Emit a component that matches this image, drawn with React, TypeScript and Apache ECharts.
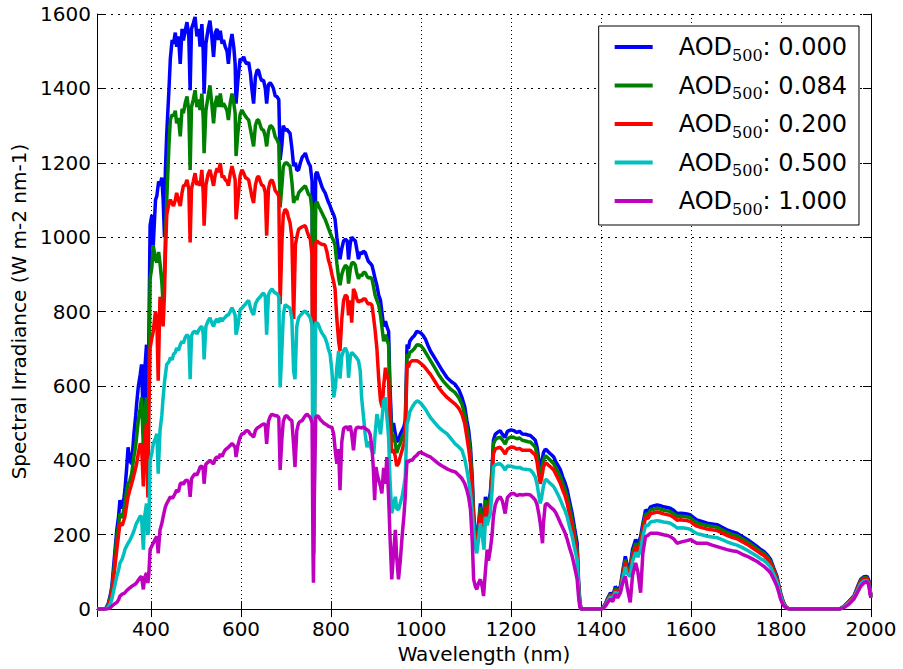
import React, { useEffect, useRef } from "react";
import * as echarts from "echarts";

const aodLabels = ["0.000", "0.084", "0.200", "0.500", "1.000"];
const seriesColors = ["#0000ff", "#008000", "#ff0000", "#00bfbf", "#bf00bf"];
const xTickStart = 280;
const xTickEnd = 2000;
const yTickEnd = 1600;

const aod000: number[][] = [[280,0],[295,0],[300,3],[305,15],[310,40],[313,61],[318,130],[324,213],[328,250],[331,293],[336,270],[340,300],[342,320],[346,380],[349,435],[353,400],[357,390],[362,470],[366,520],[368,551],[372,600],[376,630],[379,658],[383,497],[386,640],[390,711],[393,430],[395,700],[398,1031],[402,1060],[405,978],[410,1100],[413,1111],[417,1150],[420,1138],[424,1160],[427,1101],[430,1000],[432,1180],[435,1279],[440,1400],[443,1480],[447,1530],[450,1520],[454,1550],[457,1512],[461,1540],[465,1466],[469,1560],[472,1529],[476,1555],[480,1578],[484,1540],[487,1395],[490,1560],[494,1575],[498,1592],[502,1540],[506,1560],[509,1512],[513,1573],[516,1500],[518,1386],[522,1520],[527,1560],[531,1582],[535,1540],[539,1485],[543,1550],[547,1560],[550,1530],[554,1555],[558,1520],[561,1530],[565,1512],[569,1500],[572,1466],[576,1520],[580,1546],[584,1510],[587,1466],[589,1359],[593,1420],[598,1480],[602,1475],[606,1485],[610,1470],[613,1466],[617,1470],[621,1440],[624,1400],[628,1359],[632,1430],[636,1450],[639,1448],[643,1430],[646,1420],[650,1422],[654,1400],[657,1359],[661,1410],[665,1415],[669,1408],[672,1400],[676,1380],[680,1378],[684,1370],[687,1208],[691,1250],[694,1300],[698,1288],[702,1290],[705,1285],[709,1279],[713,1240],[717,1191],[721,1200],[724,1180],[728,1181],[732,1200],[736,1215],[740,1220],[743,1226],[747,1210],[750,1200],[754,1191],[758,1150],[760,500],[762,250],[764,900],[766,1170],[769,1175],[772,1164],[776,1150],[780,1135],[784,1125],[787,1119],[791,1105],[794,1095],[798,1084],[802,1070],[806,1060],[809,1048],[813,1000],[817,960],[820,941],[824,970],[828,990],[832,994],[836,990],[839,940],[843,985],[846,1000],[850,994],[854,990],[857,970],[861,941],[865,960],[868,955],[872,962],[876,959],[880,945],[883,935],[887,930],[891,924],[894,910],[898,888],[902,870],[906,844],[910,830],[914,790],[917,760],[921,774],[924,760],[928,747],[931,600],[935,480],[939,500],[943,471],[946,450],[950,454],[954,470],[958,480],[962,490],[965,507],[967,600],[969,711],[972,700],[975,720],[980,729],[985,735],[991,747],[995,745],[1000,742],[1005,735],[1010,725],[1015,710],[1021,694],[1030,676],[1039,658],[1048,640],[1058,622],[1067,612],[1076,604],[1084,590],[1091,569],[1097,545],[1102,507],[1106,480],[1110,435],[1114,350],[1117,257],[1121,200],[1124,177],[1128,230],[1132,284],[1136,250],[1140,200],[1143,302],[1147,270],[1150,290],[1154,311],[1158,380],[1161,454],[1165,470],[1170,475],[1176,480],[1181,470],[1187,462],[1192,478],[1200,482],[1206,480],[1213,475],[1219,478],[1225,471],[1232,470],[1238,468],[1243,467],[1249,460],[1254,454],[1258,435],[1262,400],[1265,374],[1268,390],[1272,420],[1276,430],[1280,427],[1285,420],[1290,415],[1295,409],[1300,395],[1305,385],[1310,374],[1315,355],[1320,340],[1325,320],[1330,290],[1336,257],[1341,220],[1347,177],[1350,80],[1353,20],[1356,0],[1400,0],[1405,5],[1410,15],[1415,30],[1421,44],[1426,35],[1432,61],[1437,50],[1443,61],[1448,100],[1454,142],[1458,120],[1465,115],[1470,160],[1477,187],[1482,175],[1488,195],[1493,230],[1499,267],[1504,262],[1510,275],[1518,278],[1525,280],[1532,278],[1539,275],[1547,273],[1554,271],[1562,265],[1569,257],[1577,258],[1584,257],[1591,256],[1599,253],[1606,246],[1613,240],[1624,236],[1636,231],[1647,229],[1658,227],[1669,220],[1680,213],[1691,208],[1702,204],[1713,196],[1725,187],[1736,178],[1747,168],[1755,160],[1762,155],[1770,145],[1777,133],[1784,110],[1791,88],[1795,65],[1799,44],[1805,20],[1810,8],[1815,2],[1821,0],[1930,0],[1940,8],[1950,20],[1962,35],[1970,60],[1977,80],[1984,87],[1991,88],[1995,78],[1998,53],[2000,35]];

const aod084: number[][] = [[280,0],[295,0],[300,2],[305,12],[310,35],[313,53],[318,110],[324,195],[328,225],[331,257],[336,245],[340,270],[342,284],[346,320],[349,337],[353,345],[357,364],[362,410],[366,440],[368,462],[372,510],[376,540],[379,569],[383,435],[386,520],[390,569],[393,330],[395,560],[398,888],[402,920],[405,978],[410,940],[413,932],[417,960],[420,930],[424,880],[427,820],[430,900],[432,1000],[435,1101],[440,1250],[443,1315],[447,1330],[450,1325],[454,1340],[457,1306],[461,1320],[465,1271],[469,1345],[472,1333],[476,1360],[480,1378],[484,1340],[487,1181],[490,1350],[494,1370],[498,1395],[502,1350],[506,1370],[509,1342],[513,1386],[516,1320],[518,1226],[522,1340],[527,1380],[531,1408],[535,1360],[539,1306],[543,1360],[547,1380],[550,1350],[554,1386],[558,1350],[561,1360],[565,1351],[569,1340],[572,1315],[576,1360],[580,1386],[584,1360],[587,1333],[589,1218],[593,1280],[598,1330],[602,1342],[606,1333],[610,1325],[613,1320],[617,1315],[621,1290],[624,1270],[628,1244],[632,1300],[636,1315],[639,1315],[643,1300],[646,1290],[650,1288],[654,1270],[657,1244],[661,1285],[665,1300],[669,1297],[672,1290],[676,1270],[680,1262],[684,1250],[687,1080],[691,1140],[694,1190],[698,1199],[702,1200],[705,1195],[709,1191],[713,1150],[717,1092],[721,1110],[724,1100],[728,1119],[732,1125],[736,1130],[740,1135],[743,1138],[747,1125],[750,1115],[754,1111],[758,1070],[760,450],[762,220],[764,850],[766,1090],[769,1095],[772,1084],[776,1075],[780,1065],[784,1055],[787,1048],[791,1035],[794,1025],[798,1012],[802,1000],[806,990],[809,978],[813,930],[817,890],[820,871],[824,900],[828,915],[832,924],[836,920],[839,875],[843,915],[846,930],[850,932],[854,925],[857,905],[861,888],[865,900],[868,895],[872,905],[876,905],[880,895],[883,890],[887,892],[891,888],[894,870],[898,844],[902,830],[906,817],[910,790],[914,750],[917,720],[921,738],[924,725],[928,711],[931,570],[935,450],[939,470],[943,444],[946,420],[950,435],[954,445],[958,462],[962,470],[965,480],[967,580],[969,685],[972,675],[975,690],[980,694],[985,700],[991,711],[995,710],[1000,708],[1005,700],[1010,690],[1015,680],[1021,668],[1030,650],[1039,631],[1048,615],[1058,601],[1067,590],[1076,582],[1084,568],[1091,551],[1097,525],[1102,489],[1106,460],[1110,417],[1114,330],[1117,248],[1121,190],[1124,170],[1128,220],[1132,275],[1136,240],[1140,190],[1143,293],[1147,260],[1150,280],[1154,302],[1158,370],[1161,444],[1165,455],[1170,460],[1176,462],[1181,455],[1187,444],[1192,458],[1200,463],[1206,462],[1213,458],[1219,460],[1225,454],[1232,452],[1238,450],[1243,449],[1249,442],[1254,435],[1258,415],[1262,380],[1265,355],[1268,372],[1272,400],[1276,412],[1280,409],[1285,403],[1290,397],[1295,391],[1300,378],[1305,367],[1310,355],[1315,338],[1320,322],[1325,302],[1330,275],[1336,240],[1341,205],[1347,160],[1350,70],[1353,15],[1356,0],[1400,0],[1405,4],[1410,13],[1415,27],[1421,40],[1426,32],[1432,56],[1437,46],[1443,56],[1448,92],[1454,133],[1458,112],[1465,105],[1470,150],[1477,177],[1482,165],[1488,185],[1493,220],[1499,257],[1504,252],[1510,266],[1518,269],[1525,271],[1532,269],[1539,266],[1547,264],[1554,262],[1562,256],[1569,249],[1577,250],[1584,249],[1591,248],[1599,245],[1606,238],[1613,232],[1624,228],[1636,224],[1647,222],[1658,220],[1669,213],[1680,206],[1691,201],[1702,197],[1713,190],[1725,181],[1736,172],[1747,162],[1755,155],[1762,150],[1770,140],[1777,128],[1784,106],[1791,84],[1795,62],[1799,42],[1805,18],[1810,7],[1815,2],[1821,0],[1930,0],[1940,7],[1950,19],[1962,33],[1970,57],[1977,77],[1984,84],[1991,85],[1995,75],[1998,51],[2000,34]];

const aod200: number[][] = [[280,0],[295,0],[300,2],[305,9],[310,28],[313,45],[318,95],[324,160],[328,200],[331,231],[336,225],[340,240],[342,248],[346,280],[349,302],[353,320],[357,337],[362,360],[366,380],[368,391],[372,420],[376,445],[379,440],[383,330],[386,440],[390,498],[393,300],[395,520],[398,702],[402,730],[405,747],[410,801],[413,780],[416,614],[420,840],[424,807],[427,760],[430,850],[432,950],[435,1060],[440,1092],[443,1101],[447,1090],[450,1084],[454,1100],[457,1119],[461,1100],[465,1084],[469,1120],[472,1138],[476,1140],[480,1154],[484,1130],[487,986],[490,1130],[494,1150],[498,1172],[502,1140],[506,1150],[509,1138],[513,1181],[516,1120],[518,1031],[522,1140],[527,1170],[531,1181],[535,1160],[539,1138],[543,1170],[547,1185],[550,1175],[554,1199],[558,1160],[561,1165],[565,1154],[569,1150],[572,1138],[576,1170],[580,1191],[584,1170],[587,1154],[589,1048],[593,1100],[598,1165],[602,1181],[606,1172],[610,1160],[613,1158],[617,1154],[621,1130],[624,1110],[628,1092],[632,1140],[636,1160],[639,1164],[643,1150],[646,1140],[650,1138],[654,1120],[657,1004],[661,1130],[665,1150],[669,1154],[672,1145],[676,1125],[680,1119],[684,1110],[687,820],[691,990],[694,1060],[698,1075],[702,1070],[705,1055],[709,1039],[713,1000],[717,780],[721,980],[724,1000],[728,1021],[732,1025],[736,1028],[740,1030],[743,1031],[747,1015],[750,1005],[754,994],[758,950],[760,400],[762,200],[764,750],[766,985],[769,990],[772,986],[776,983],[780,980],[784,980],[787,978],[791,960],[794,940],[798,924],[802,900],[806,880],[809,861],[813,780],[817,720],[820,694],[824,780],[828,830],[832,844],[836,840],[839,790],[843,830],[846,770],[850,861],[854,850],[857,835],[861,825],[865,830],[868,828],[872,834],[876,834],[880,825],[883,820],[887,822],[891,817],[894,790],[898,750],[902,700],[906,620],[910,560],[914,542],[917,600],[921,649],[924,630],[928,614],[931,500],[935,420],[939,430],[943,409],[946,385],[950,391],[954,410],[958,427],[962,445],[965,462],[967,560],[969,658],[972,650],[975,662],[980,668],[985,668],[991,668],[995,665],[1000,660],[1005,655],[1010,648],[1015,640],[1021,631],[1030,614],[1039,596],[1048,582],[1058,569],[1067,560],[1076,551],[1084,540],[1091,524],[1097,500],[1102,462],[1106,430],[1110,391],[1114,310],[1117,231],[1121,180],[1124,160],[1128,210],[1132,257],[1136,225],[1140,180],[1143,275],[1147,245],[1150,265],[1154,284],[1158,350],[1161,417],[1165,430],[1170,433],[1176,435],[1181,428],[1187,417],[1192,430],[1200,436],[1206,435],[1213,430],[1219,432],[1225,427],[1232,427],[1238,427],[1243,427],[1249,420],[1254,414],[1258,395],[1262,360],[1265,337],[1268,352],[1272,380],[1276,393],[1280,391],[1285,385],[1290,380],[1295,374],[1300,362],[1305,350],[1310,337],[1315,320],[1320,305],[1325,284],[1330,255],[1336,222],[1341,190],[1347,150],[1350,60],[1353,12],[1356,0],[1400,0],[1405,4],[1410,12],[1415,25],[1421,37],[1426,30],[1432,52],[1437,43],[1443,52],[1448,86],[1454,125],[1458,105],[1465,98],[1470,140],[1477,167],[1482,155],[1488,175],[1493,210],[1499,247],[1504,243],[1510,256],[1518,259],[1525,261],[1532,259],[1539,256],[1547,254],[1554,252],[1562,246],[1569,239],[1577,240],[1584,239],[1591,238],[1599,235],[1606,228],[1613,223],[1624,219],[1636,215],[1647,213],[1658,211],[1669,205],[1680,198],[1691,193],[1702,189],[1713,182],[1725,174],[1736,165],[1747,156],[1755,149],[1762,144],[1770,134],[1777,123],[1784,102],[1791,80],[1795,60],[1799,40],[1805,17],[1810,7],[1815,2],[1821,0],[1930,0],[1940,7],[1950,18],[1962,32],[1970,55],[1977,74],[1984,81],[1991,82],[1995,73],[1998,49],[2000,33]];

const aod500: number[][] = [[280,0],[295,0],[300,1],[305,5],[310,15],[313,27],[318,55],[324,88],[328,105],[331,124],[336,135],[340,150],[342,160],[346,170],[349,177],[353,185],[357,195],[362,210],[366,225],[368,231],[372,240],[376,250],[379,248],[383,160],[386,250],[390,284],[393,200],[395,213],[398,400],[402,420],[405,444],[410,460],[413,471],[416,364],[420,480],[424,520],[427,569],[430,610],[432,630],[435,658],[440,665],[443,676],[447,670],[450,685],[454,690],[457,702],[461,695],[465,711],[469,720],[472,715],[476,730],[480,738],[484,730],[487,618],[490,735],[494,745],[498,747],[502,740],[506,750],[509,756],[513,760],[516,740],[518,671],[522,760],[527,775],[531,783],[535,770],[539,760],[543,775],[547,780],[550,770],[554,783],[558,775],[561,780],[565,785],[569,790],[572,791],[576,800],[580,810],[584,800],[587,790],[589,738],[593,760],[598,805],[602,809],[606,815],[610,820],[613,825],[617,830],[621,810],[624,800],[628,791],[632,820],[636,830],[639,835],[643,840],[646,845],[650,850],[654,840],[657,738],[661,845],[665,855],[669,861],[672,855],[676,850],[680,848],[684,840],[687,596],[691,700],[694,790],[698,818],[702,815],[705,812],[709,809],[713,780],[717,640],[720,618],[724,760],[728,783],[732,790],[736,795],[740,800],[743,801],[747,795],[750,790],[754,783],[758,760],[760,300],[762,150],[764,550],[766,770],[769,770],[772,765],[776,752],[780,742],[784,735],[787,729],[791,715],[794,700],[798,685],[802,640],[806,569],[810,600],[813,650],[817,694],[820,620],[824,680],[828,695],[832,702],[836,690],[839,622],[843,680],[846,690],[850,685],[854,680],[857,675],[861,668],[865,640],[868,569],[872,520],[876,470],[880,435],[883,450],[887,440],[891,425],[895,417],[898,470],[902,524],[906,500],[910,470],[914,520],[917,560],[921,569],[924,520],[928,462],[931,350],[935,257],[939,280],[943,302],[946,270],[950,267],[954,285],[958,302],[962,330],[965,355],[967,430],[969,498],[972,510],[975,530],[980,542],[985,552],[991,560],[995,558],[1000,553],[1005,545],[1010,537],[1015,527],[1021,515],[1030,502],[1039,489],[1048,480],[1058,471],[1067,458],[1076,444],[1084,436],[1091,427],[1097,405],[1102,374],[1106,345],[1110,311],[1114,260],[1117,213],[1121,165],[1124,150],[1128,190],[1132,231],[1136,200],[1140,160],[1143,248],[1147,225],[1150,240],[1154,257],[1158,320],[1161,382],[1165,388],[1170,390],[1176,391],[1181,385],[1187,374],[1192,385],[1200,384],[1206,382],[1213,380],[1219,381],[1225,377],[1232,376],[1238,375],[1243,374],[1249,366],[1254,355],[1258,335],[1262,305],[1265,284],[1268,300],[1272,330],[1276,348],[1280,347],[1285,340],[1290,335],[1295,329],[1300,318],[1305,306],[1310,293],[1315,278],[1320,265],[1325,248],[1330,222],[1336,195],[1341,165],[1347,133],[1350,55],[1353,10],[1356,0],[1400,0],[1405,3],[1410,10],[1415,22],[1421,33],[1426,27],[1432,47],[1437,38],[1443,47],[1448,78],[1454,113],[1458,95],[1465,88],[1470,128],[1477,153],[1482,140],[1488,160],[1493,195],[1499,226],[1504,224],[1510,234],[1518,236],[1525,238],[1532,236],[1539,234],[1547,233],[1554,231],[1562,225],[1569,218],[1577,219],[1584,218],[1591,217],[1599,214],[1606,208],[1613,203],[1624,200],[1636,196],[1647,194],[1658,192],[1669,187],[1680,181],[1691,176],[1702,172],[1713,166],[1725,158],[1736,150],[1747,142],[1755,135],[1762,131],[1770,122],[1777,112],[1784,93],[1791,73],[1795,55],[1799,36],[1805,15],[1810,6],[1815,2],[1821,0],[1930,0],[1940,6],[1950,16],[1962,30],[1970,50],[1977,68],[1984,75],[1991,77],[1995,68],[1998,45],[2000,30]];

const aod1000: number[][] = [[280,0],[300,0],[305,1],[310,4],[313,8],[318,13],[324,18],[328,25],[331,35],[336,40],[340,42],[342,44],[346,50],[349,53],[353,57],[357,61],[362,65],[366,68],[368,71],[372,78],[376,85],[379,88],[383,53],[386,85],[390,97],[393,70],[395,90],[398,160],[402,170],[405,177],[410,190],[413,195],[416,150],[420,213],[424,230],[427,248],[430,265],[432,275],[435,284],[440,295],[443,302],[447,298],[450,302],[454,312],[457,320],[461,315],[465,337],[469,340],[472,335],[476,345],[480,347],[484,340],[487,302],[490,350],[494,358],[498,364],[502,360],[506,372],[509,382],[513,385],[516,375],[518,337],[522,390],[527,395],[531,400],[535,395],[539,390],[543,405],[547,410],[550,405],[554,417],[558,410],[561,420],[565,428],[569,432],[572,435],[576,440],[580,445],[584,440],[587,435],[589,409],[593,440],[598,462],[602,471],[606,472],[610,478],[613,480],[617,478],[621,470],[624,468],[628,462],[632,480],[636,487],[639,489],[643,492],[646,495],[650,498],[654,496],[657,444],[661,505],[665,518],[669,524],[672,522],[676,520],[680,520],[684,515],[687,374],[691,460],[694,505],[698,518],[702,520],[705,515],[709,510],[713,507],[717,440],[720,382],[724,480],[728,500],[732,505],[736,507],[740,515],[743,520],[747,524],[750,520],[754,515],[758,500],[760,150],[761,71],[763,300],[766,515],[769,520],[772,518],[776,510],[780,505],[784,500],[787,498],[791,495],[794,492],[798,490],[802,489],[806,470],[810,420],[813,391],[817,430],[820,320],[824,450],[828,485],[832,489],[836,490],[839,480],[843,493],[846,470],[850,427],[854,480],[857,488],[861,489],[865,488],[868,487],[872,489],[876,486],[880,482],[883,480],[887,470],[891,435],[894,380],[897,293],[900,382],[903,360],[906,347],[910,330],[913,311],[917,380],[921,337],[924,409],[928,302],[931,200],[935,80],[939,150],[943,213],[946,140],[950,80],[954,130],[958,195],[962,250],[965,302],[967,360],[969,400],[972,395],[975,400],[980,400],[985,408],[991,414],[995,420],[1000,422],[1005,418],[1010,415],[1015,412],[1021,409],[1030,400],[1039,391],[1048,384],[1058,377],[1067,372],[1076,369],[1084,360],[1091,351],[1097,338],[1102,320],[1106,300],[1110,267],[1114,180],[1117,80],[1121,60],[1124,53],[1128,70],[1132,80],[1136,60],[1139,35],[1143,100],[1147,160],[1150,130],[1154,160],[1158,200],[1161,250],[1165,280],[1170,295],[1176,302],[1181,290],[1187,257],[1192,300],[1200,310],[1206,311],[1213,305],[1219,308],[1225,307],[1232,308],[1238,308],[1243,307],[1249,300],[1254,293],[1258,280],[1262,255],[1265,231],[1268,200],[1270,177],[1272,230],[1276,280],[1280,284],[1285,278],[1290,272],[1295,267],[1300,258],[1305,245],[1310,231],[1315,218],[1320,205],[1325,187],[1330,165],[1336,142],[1341,115],[1347,80],[1350,35],[1353,5],[1356,0],[1400,0],[1405,2],[1410,8],[1415,18],[1421,27],[1426,20],[1432,40],[1437,30],[1443,44],[1448,70],[1454,88],[1458,60],[1465,18],[1470,90],[1477,124],[1482,100],[1488,44],[1493,150],[1499,195],[1504,198],[1510,204],[1518,204],[1525,204],[1532,202],[1539,200],[1547,198],[1554,195],[1562,188],[1569,177],[1577,180],[1584,182],[1591,184],[1599,187],[1606,182],[1613,177],[1624,177],[1636,177],[1647,172],[1658,168],[1669,164],[1680,160],[1691,157],[1702,155],[1713,148],[1725,142],[1736,135],[1747,128],[1755,121],[1762,115],[1770,106],[1777,97],[1784,80],[1791,61],[1795,45],[1799,27],[1805,10],[1810,5],[1815,1],[1821,0],[1930,0],[1940,4],[1950,12],[1962,27],[1970,45],[1977,61],[1984,70],[1991,75],[1995,65],[1998,40],[2000,30]];

const seriesData = [aod000, aod084, aod200, aod500, aod1000];

const FONT = "DejaVu Sans";

export default function App() {
  const ref = useRef<HTMLDivElement>(null);
  useEffect(() => {
    if (!ref.current) return;
    const chart = echarts.init(ref.current, undefined, { renderer: "svg" });
    const axisLine = { show: true, lineStyle: { color: "#000", width: 1 } };
    const tick = { show: true, inside: true, length: 8, lineStyle: { color: "#000", width: 1 } };
    const labelStyle = { color: "#000", fontSize: 20, fontFamily: FONT };
    const plain = (v: number) => String(v);
    chart.setOption({
      animation: false,
      backgroundColor: "#fff",
      grid: { left: 97, right: 32, top: 14, bottom: 56, containLabel: false },
      legend: {
        orient: "vertical",
        right: 44,
        top: 26,
        backgroundColor: "#fff",
        borderColor: "#000",
        borderWidth: 1,
        borderRadius: 0,
        padding: [5, 12, 8, 16],
        icon: "rect",
        itemWidth: 38,
        itemHeight: 4,
        itemGap: 6.5,
        data: aodLabels.map((a) => "AOD500: " + a),
        formatter: (name: string) => name.replace("AOD500", "AOD{sub|500}"),
        textStyle: {
          color: "#000",
          fontSize: 24,
          fontFamily: FONT,
          padding: [0, 0, 0, 21],
          lineHeight: 28,
          rich: {
            sub: { fontSize: 16, fontFamily: "DejaVu Serif", color: "#000", padding: [16, 0, 0, 0], lineHeight: 28 },
          },
        },
      },
      xAxis: [
        {
          type: "value",
          min: xTickStart,
          max: xTickEnd,
          minInterval: 200,
          maxInterval: 200,
          position: "bottom",
          axisLine,
          axisTick: tick,
          axisLabel: { ...labelStyle, showMinLabel: false, margin: 10, formatter: plain },
          splitLine: { show: true, lineStyle: { color: "#000", width: 1, type: [1, 3] } },
          name: "Wavelength (nm)",
          nameLocation: "middle",
          nameGap: 23,
          nameTextStyle: labelStyle,
        },
        {
          type: "value",
          min: xTickStart,
          max: xTickEnd,
          minInterval: 200,
          maxInterval: 200,
          position: "top",
          axisLine,
          axisTick: tick,
          axisLabel: { show: false },
          splitLine: { show: false },
        },
      ],
      yAxis: [
        {
          type: "value",
          min: 0,
          max: yTickEnd,
          interval: 200,
          position: "left",
          axisLine,
          axisTick: tick,
          axisLabel: { ...labelStyle, margin: 6, formatter: plain },
          splitLine: { show: true, lineStyle: { color: "#000", width: 1, type: [2, 5] } },
          name: "Spectral Irradiance (W m-2 nm-1)",
          nameLocation: "middle",
          nameGap: 57,
          nameTextStyle: labelStyle,
        },
        {
          type: "value",
          min: 0,
          max: yTickEnd,
          interval: 200,
          position: "right",
          axisLine,
          axisTick: tick,
          axisLabel: { show: false },
          splitLine: { show: false },
        },
      ],
      series: seriesData.map((d, i) => ({
        type: "line",
        name: "AOD500: " + aodLabels[i],
        data: d,
        xAxisIndex: 0,
        yAxisIndex: 0,
        symbol: "none",
        showSymbol: false,
        color: seriesColors[i],
        lineStyle: { width: 3.5, color: seriesColors[i] },
        itemStyle: { color: seriesColors[i] },
        emphasis: { disabled: true },
        z: 2 + i,
      })),
    });
    return () => chart.dispose();
  }, []);
  return <div ref={ref} style={{ position: "fixed", left: 0, top: 0, width: 903, height: 669 }} />;
}
